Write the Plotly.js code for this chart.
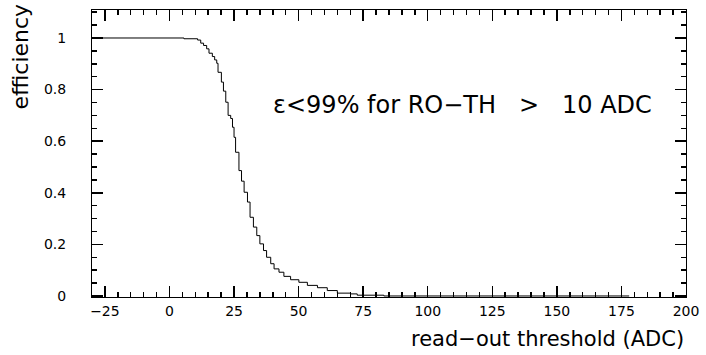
<!DOCTYPE html>
<html>
<head>
<meta charset="utf-8">
<script src="https://cdn.plot.ly/plotly-3.0.1.min.js"></script>
<style>html,body{margin:0;padding:0;background:#fff;}#chart{width:706px;height:355px;}</style>
</head>
<body>
<div id="chart"></div>
<script>
// step positions (read-out threshold, ADC) and efficiency values
var thresholds = [-30, 5.6, 10.9, 12.1, 13.2, 14.4, 15.3, 16.6, 17.5, 18.3, 18.8, 20.1, 20.9, 21.8, 22.7, 23.7, 24.4, 25.0, 25.6, 26.9, 27.9, 28.9, 30.2, 31.2, 32.5, 33.8, 35.0, 36.4, 37.6, 39.2, 40.5, 42.4, 44.3, 46.9, 50.1, 53.4, 57.3, 61.1, 65.0, 70.1, 72.7, 83.0, 178];
var efficiency = [1.0, 0.997, 0.992, 0.980, 0.971, 0.958, 0.941, 0.928, 0.915, 0.902, 0.867, 0.829, 0.794, 0.751, 0.700, 0.688, 0.654, 0.615, 0.557, 0.486, 0.445, 0.402, 0.364, 0.305, 0.267, 0.234, 0.202, 0.176, 0.150, 0.125, 0.105, 0.092, 0.076, 0.063, 0.053, 0.041, 0.032, 0.021, 0.011, 0.008, 0.003, 0.0, 0.0];
var xTickVals = [-25, 0, 25, 50, 75, 100, 125, 150, 175, 200];
var xTickText = ['\u221225', '0', '25', '50', '75', '100', '125', '150', '175', '200'];
var yTickVals = [0, 0.2, 0.4, 0.6, 0.8, 1];
var yTickText = ['0', '0.2', '0.4', '0.6', '0.8', '1'];
var xRange = [-30, 200];
var yRange = [-0.004, 1.1085];

var font = 'DejaVu Sans, Verdana, sans-serif';
var layout = {
  width: 706, height: 355,
  margin: {l: 92, r: 20, t: 10, b: 58},
  paper_bgcolor: '#fff', plot_bgcolor: '#fff',
  showlegend: false,
  xaxis: {range: xRange, tickmode: 'array', tickvals: xTickVals, ticktext: xTickText,
    ticks: 'inside', ticklen: 11, tickwidth: 1.5, tickcolor: '#000',
    minor: {dtick: 5, tick0: 0, ticks: 'inside', ticklen: 5, tickcolor: '#000', tickwidth: 1.5},
    showline: true, linecolor: '#000', linewidth: 1, mirror: 'ticks',
    showgrid: false, zeroline: false, ticklabelstandoff: 1,
    tickfont: {family: font, size: 14, color: '#000'}},
  yaxis: {range: yRange, tickmode: 'array', tickvals: yTickVals, ticktext: yTickText,
    ticks: 'inside', ticklen: 11, tickwidth: 1.5, tickcolor: '#000',
    minor: {dtick: 0.05, tick0: 0, ticks: 'inside', ticklen: 5, tickcolor: '#000', tickwidth: 1.5},
    showline: true, linecolor: '#000', linewidth: 1, mirror: 'ticks',
    showgrid: false, zeroline: false, ticklabelstandoff: 22,
    tickfont: {family: font, size: 14, color: '#000'}},
  annotations: [
    {text: '\u03b5<99% for RO\u2212TH\u00a0\u00a0\u00a0>\u00a0\u00a0\u00a010 ADC', xref: 'x', yref: 'y', x: 39.5, y: 0.74,
     xanchor: 'left', yanchor: 'middle', showarrow: false, font: {family: font, size: 24, color: '#000'}},
    {text: 'read\u2212out threshold (ADC)', xref: 'paper', yref: 'paper', x: 1, y: -0.147,
     xanchor: 'right', yanchor: 'middle', showarrow: false, font: {family: font, size: 21, color: '#000'}},
    {text: 'efficiency', xref: 'paper', yref: 'paper', x: -0.121, y: 1.03, textangle: -90,
     xanchor: 'center', yanchor: 'top', showarrow: false, font: {family: font, size: 22, color: '#000'}}
  ]
};
var trace = {x: thresholds, y: efficiency, type: 'scatter', mode: 'lines',
  line: {shape: 'hv', color: '#000', width: 1}};
Plotly.newPlot('chart', [trace], layout, {staticPlot: true});
</script>
</body>
</html>
